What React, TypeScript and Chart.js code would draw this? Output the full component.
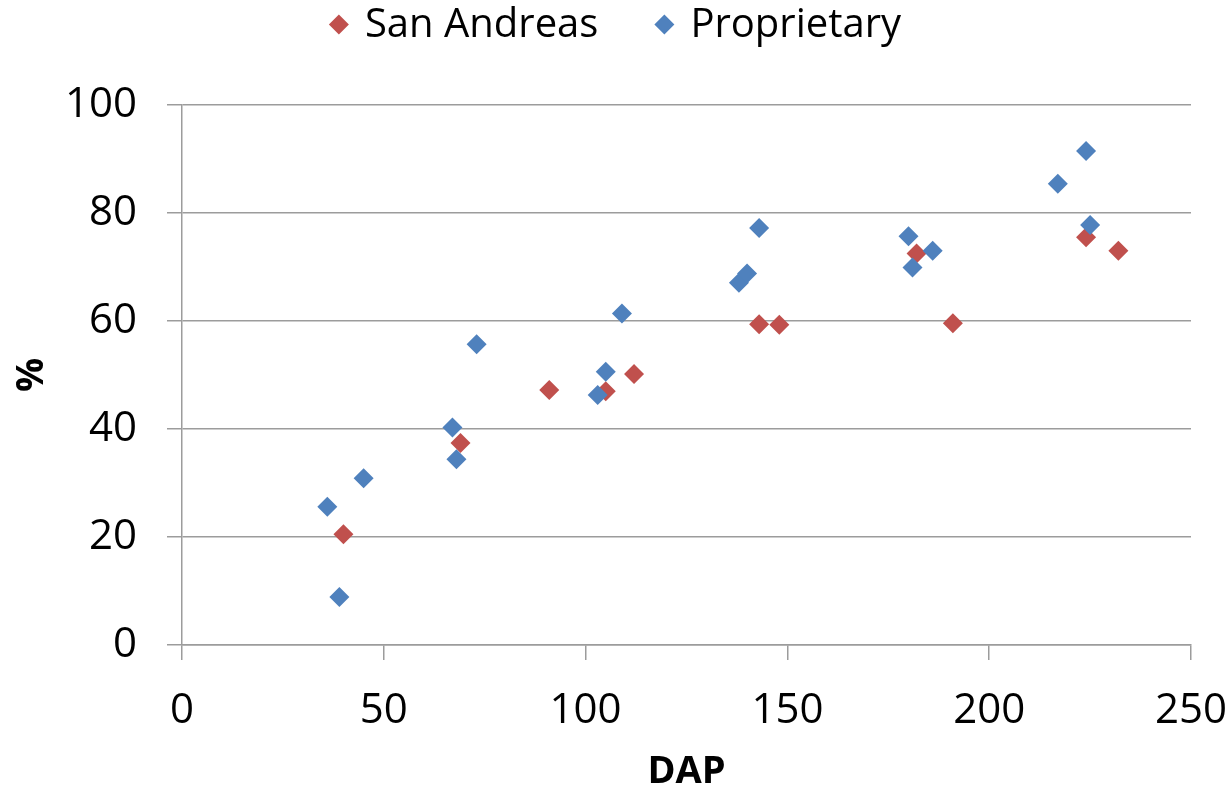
import React, { useEffect, useRef } from "react";
import { Chart, registerables } from "chart.js";

Chart.register(...registerables);

const seriesNames = ["San Andreas", "Proprietary"];
const seriesColors = ["#C0504D", "#4F81BD"];

const sanAndreasX = [40, 69, 91, 105, 112, 143, 148, 182, 191, 224, 232];
const sanAndreasY = [20.5, 37.4, 47.2, 47.0, 50.2, 59.4, 59.3, 72.5, 59.6, 75.5, 73.0];

const proprietaryX = [36, 39, 45, 67, 68, 73, 103, 105, 109, 138, 140, 143, 180, 181, 186, 217, 224, 225];
const proprietaryY = [25.6, 8.9, 30.9, 40.3, 34.4, 55.7, 46.3, 50.6, 61.4, 67.1, 68.8, 77.2, 75.7, 69.9, 73.0, 85.4, 91.5, 77.8];

const xTitle = "DAP";
const yTitle = "%";

const FONT = "'Open Sans', sans-serif";

const legendPlugin = {
  id: "customLegend",
  afterDraw(chart: any) {
    const ctx = chart.ctx as CanvasRenderingContext2D;
    ctx.save();
    ctx.font = `40px ${FONT}`;
    const r = 10;
    const markerToText = 26;
    const gap = 56;
    const items = chart.data.datasets.map((d: any) => ({
      text: d.label,
      color: d.backgroundColor,
      w: ctx.measureText(d.label).width,
    }));
    let total = 0;
    items.forEach((it: any, i: number) => {
      total += r + markerToText + it.w + (i > 0 ? gap + r : 0);
    });
    let x = 620 - total / 2;
    const my = 24.5;
    const ty = 37;
    items.forEach((it: any, i: number) => {
      if (i > 0) x += gap;
      const cx = x + r;
      ctx.fillStyle = it.color;
      ctx.beginPath();
      ctx.moveTo(cx - r, my);
      ctx.lineTo(cx, my - r);
      ctx.lineTo(cx + r, my);
      ctx.lineTo(cx, my + r);
      ctx.closePath();
      ctx.fill();
      ctx.fillStyle = "#000";
      ctx.textBaseline = "alphabetic";
      ctx.textAlign = "left";
      ctx.fillText(it.text, cx + markerToText, ty);
      x = cx + markerToText + it.w;
    });
    ctx.restore();
  },
};

export default function App() {
  const ref = useRef<HTMLCanvasElement | null>(null);
  useEffect(() => {
    if (!ref.current) return;
    const toPts = (xs: number[], ys: number[]) => xs.map((x, i) => ({ x, y: ys[i] }));
    const grid = "#9c9c9c";
    const chart = new Chart(ref.current, {
      type: "scatter",
      data: {
        datasets: [
          {
            label: seriesNames[0],
            data: toPts(sanAndreasX, sanAndreasY),
            backgroundColor: seriesColors[0],
            borderColor: seriesColors[0],
            pointStyle: "rectRot",
            pointRadius: 10,
            pointHoverRadius: 10,
            borderWidth: 0,
            order: 1,
          },
          {
            label: seriesNames[1],
            data: toPts(proprietaryX, proprietaryY),
            backgroundColor: seriesColors[1],
            borderColor: seriesColors[1],
            pointStyle: "rectRot",
            pointRadius: 10,
            pointHoverRadius: 10,
            borderWidth: 0,
            order: 0,
          },
        ],
      },
      options: {
        animation: false,
        responsive: false,
        layout: { padding: { top: 105, right: 41, left: 0, bottom: 0 } },
        plugins: {
          legend: { display: false },
          tooltip: { enabled: false },
        },
        scales: {
          x: {
            type: "linear",
            min: 0,
            max: 250,
            afterFit: (s: any) => {
              s.height = 148;
              s.paddingLeft = 0;
              s.paddingRight = 0;
            },
            ticks: {
              stepSize: 50,
              color: "#000",
              padding: 26,
              font: { family: FONT, size: 42 },
            },
            grid: {
              drawOnChartArea: false,
              tickLength: 15,
              color: grid,
              lineWidth: 1.5,
            },
            border: { display: true, color: grid, width: 1.5 },
            title: {
              display: true,
              text: xTitle,
              color: "#000",
              font: { family: FONT, size: 38, weight: "bold", lineHeight: 1 },
              padding: { top: 0, bottom: 2 },
            },
          },
          y: {
            type: "linear",
            min: 0,
            max: 100,
            afterFit: (s: any) => {
              s.width = 182;
            },
            ticks: {
              stepSize: 20,
              color: "#000",
              padding: 30,
              font: { family: FONT, size: 42 },
            },
            grid: {
              drawOnChartArea: true,
              tickLength: 15,
              color: grid,
              lineWidth: 1.5,
            },
            border: { display: true, color: grid, width: 1.5 },
            title: {
              display: true,
              text: yTitle,
              color: "#000",
              font: { family: FONT, size: 38, weight: "bold", lineHeight: 1 },
              padding: { top: 13, bottom: 0 },
            },
          },
        },
      },
      plugins: [legendPlugin],
    } as any);
    return () => chart.destroy();
  }, []);
  return (
    <div style={{ position: "fixed", left: 0, top: 0, width: 1232, height: 793, background: "#fff" }}>
      <canvas ref={ref} width={1232} height={793} />
    </div>
  );
}
